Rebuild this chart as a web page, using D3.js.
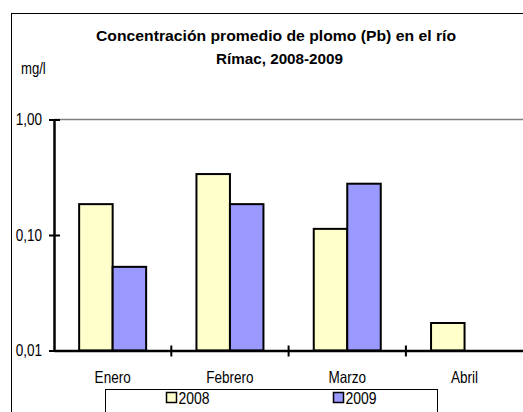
<!DOCTYPE html>
<html>
<head>
<meta charset="utf-8">
<script src="https://cdn.jsdelivr.net/npm/d3@7"></script>
<style>
  body { margin: 0; background: #fff; }
  svg { display: block; font-family: "Liberation Sans", Arial, sans-serif; }
</style>
</head>
<body>
<div id="chart"></div>
<script>
// datos (mg/l)
const months = ["Enero", "Febrero", "Marzo", "Abril"];
const years = ["2008", "2009"];
const values2008 = [0.185, 0.337, 0.113, 0.0173];
const values2009 = [0.053, 0.185, 0.278, null];
const yTicks = [0.01, 0.1, 1];
const yTickLabels = ["0,01", "0,10", "1,00"];

const width = 523, height = 412;
const colors = { "2008": "#FFFFCC", "2009": "#9999FF" };

// no hay Arial Narrow: se estrecha el texto a mano
function narrow(sel) {
    sel.each(function () {
        const w = this.getComputedTextLength();
        d3.select(this)
            .attr("textLength", w * 0.82)
            .attr("lengthAdjust", "spacingAndGlyphs");
    });
}

const svg = d3.select("#chart").append("svg")
    .attr("width", width)
    .attr("height", height);

// marco exterior
svg.append("rect")
    .attr("x", 11.5).attr("y", 13.5)
    .attr("width", width).attr("height", height)
    .attr("fill", "none").attr("stroke", "#000").attr("stroke-width", 1);

const plotLeft = 54, plotRight = 523.5, plotTop = 119.5, plotBottom = 350.5;

const x = d3.scaleBand()
    .domain(months)
    .range([plotLeft, plotLeft + 117.3 * 4]);

const xInner = d3.scaleBand()
    .domain(years)
    .range([0, 67])
    .padding(0);

const y = d3.scaleLog()
    .domain([0.01, 1])
    .range([plotBottom, plotTop]);

// línea gris en 1,00
svg.append("line")
    .attr("x1", plotLeft).attr("x2", plotRight)
    .attr("y1", y(1)).attr("y2", y(1))
    .attr("stroke", "#808080").attr("stroke-width", 1.5);

// título
const title = svg.append("text")
    .attr("text-anchor", "middle")
    .attr("font-weight", "bold")
    .attr("font-size", "15.5px")
    .attr("fill", "#000");
title.append("tspan").attr("x", 276).attr("y", 41)
    .attr("textLength", 360).attr("lengthAdjust", "spacingAndGlyphs")
    .text("Concentración promedio de plomo (Pb) en el río");
title.append("tspan").attr("x", 279.5).attr("y", 64)
    .attr("textLength", 127).attr("lengthAdjust", "spacingAndGlyphs")
    .text("Rímac, 2008-2009");

svg.append("text")
    .attr("x", 21).attr("y", 74)
    .attr("font-size", "16px")
    .text("mg/l")
    .call(narrow);

// barras
const rows = months.map((m, i) => ({ month: m, "2008": values2008[i], "2009": values2009[i] }));

const groups = svg.selectAll("g.group")
    .data(rows)
    .join("g")
    .attr("class", "group")
    .attr("transform", d => `translate(${x(d.month) + (x.bandwidth() - 67) / 2},0)`);

groups.selectAll("rect")
    .data(d => years.filter(yr => d[yr] != null).map(yr => ({ year: yr, value: d[yr] })))
    .join("rect")
    .attr("x", d => xInner(d.year))
    .attr("y", d => y(d.value))
    .attr("width", xInner.bandwidth())
    .attr("height", d => plotBottom - y(d.value))
    .attr("fill", d => colors[d.year])
    .attr("stroke", "#000")
    .attr("stroke-width", 2);

// eje Y
const yAxis = d3.axisLeft(y)
    .tickValues(yTicks)
    .tickFormat((d, i) => yTickLabels[i])
    .tickSizeInner(5)
    .tickSizeOuter(0)
    .tickPadding(6);

const yAxisG = svg.append("g")
    .attr("transform", `translate(${plotLeft},0)`)
    .call(yAxis)
    .attr("font-family", null);
yAxisG.select(".domain").attr("stroke-width", 2.5);
yAxisG.selectAll(".tick line").attr("x2", 6).attr("x1", -5).attr("stroke-width", 2);
yAxisG.selectAll(".tick text")
    .attr("x", -12)
    .attr("font-size", "16.5px")
    .attr("fill", "#000")
    .call(narrow);

// eje X
const xAxis = d3.axisBottom(x)
    .tickSize(0)
    .tickPadding(21);

const xAxisG = svg.append("g")
    .attr("transform", `translate(0,${plotBottom})`)
    .call(xAxis)
    .attr("font-family", null);
xAxisG.select(".domain").attr("stroke-width", 2.5);
xAxisG.selectAll(".tick text")
    .attr("font-size", "16.5px")
    .attr("fill", "#000")
    .call(narrow);

// marcas entre categorías
xAxisG.selectAll("line.sep")
    .data(months.slice(1))
    .join("line")
    .attr("class", "sep")
    .attr("x1", d => x(d)).attr("x2", d => x(d))
    .attr("y1", -5).attr("y2", 6)
    .attr("stroke", "#000").attr("stroke-width", 2);

// leyenda
const legend = svg.append("g");
legend.append("rect")
    .attr("x", 105.5).attr("y", 389.5)
    .attr("width", 332).attr("height", 40)
    .attr("fill", "#fff").attr("stroke", "#000").attr("stroke-width", 1);

const legendX = { "2008": 166.5, "2009": 333.5 };
years.forEach(yr => {
    legend.append("rect")
        .attr("x", legendX[yr]).attr("y", 392.5)
        .attr("width", 10).attr("height", 10)
        .attr("fill", colors[yr]).attr("stroke", "#000").attr("stroke-width", 1.5);
    legend.append("text")
        .attr("x", legendX[yr] + 12).attr("y", 403.5)
        .attr("font-size", "17px")
        .text(yr)
        .call(narrow);
});
</script>
</body>
</html>
